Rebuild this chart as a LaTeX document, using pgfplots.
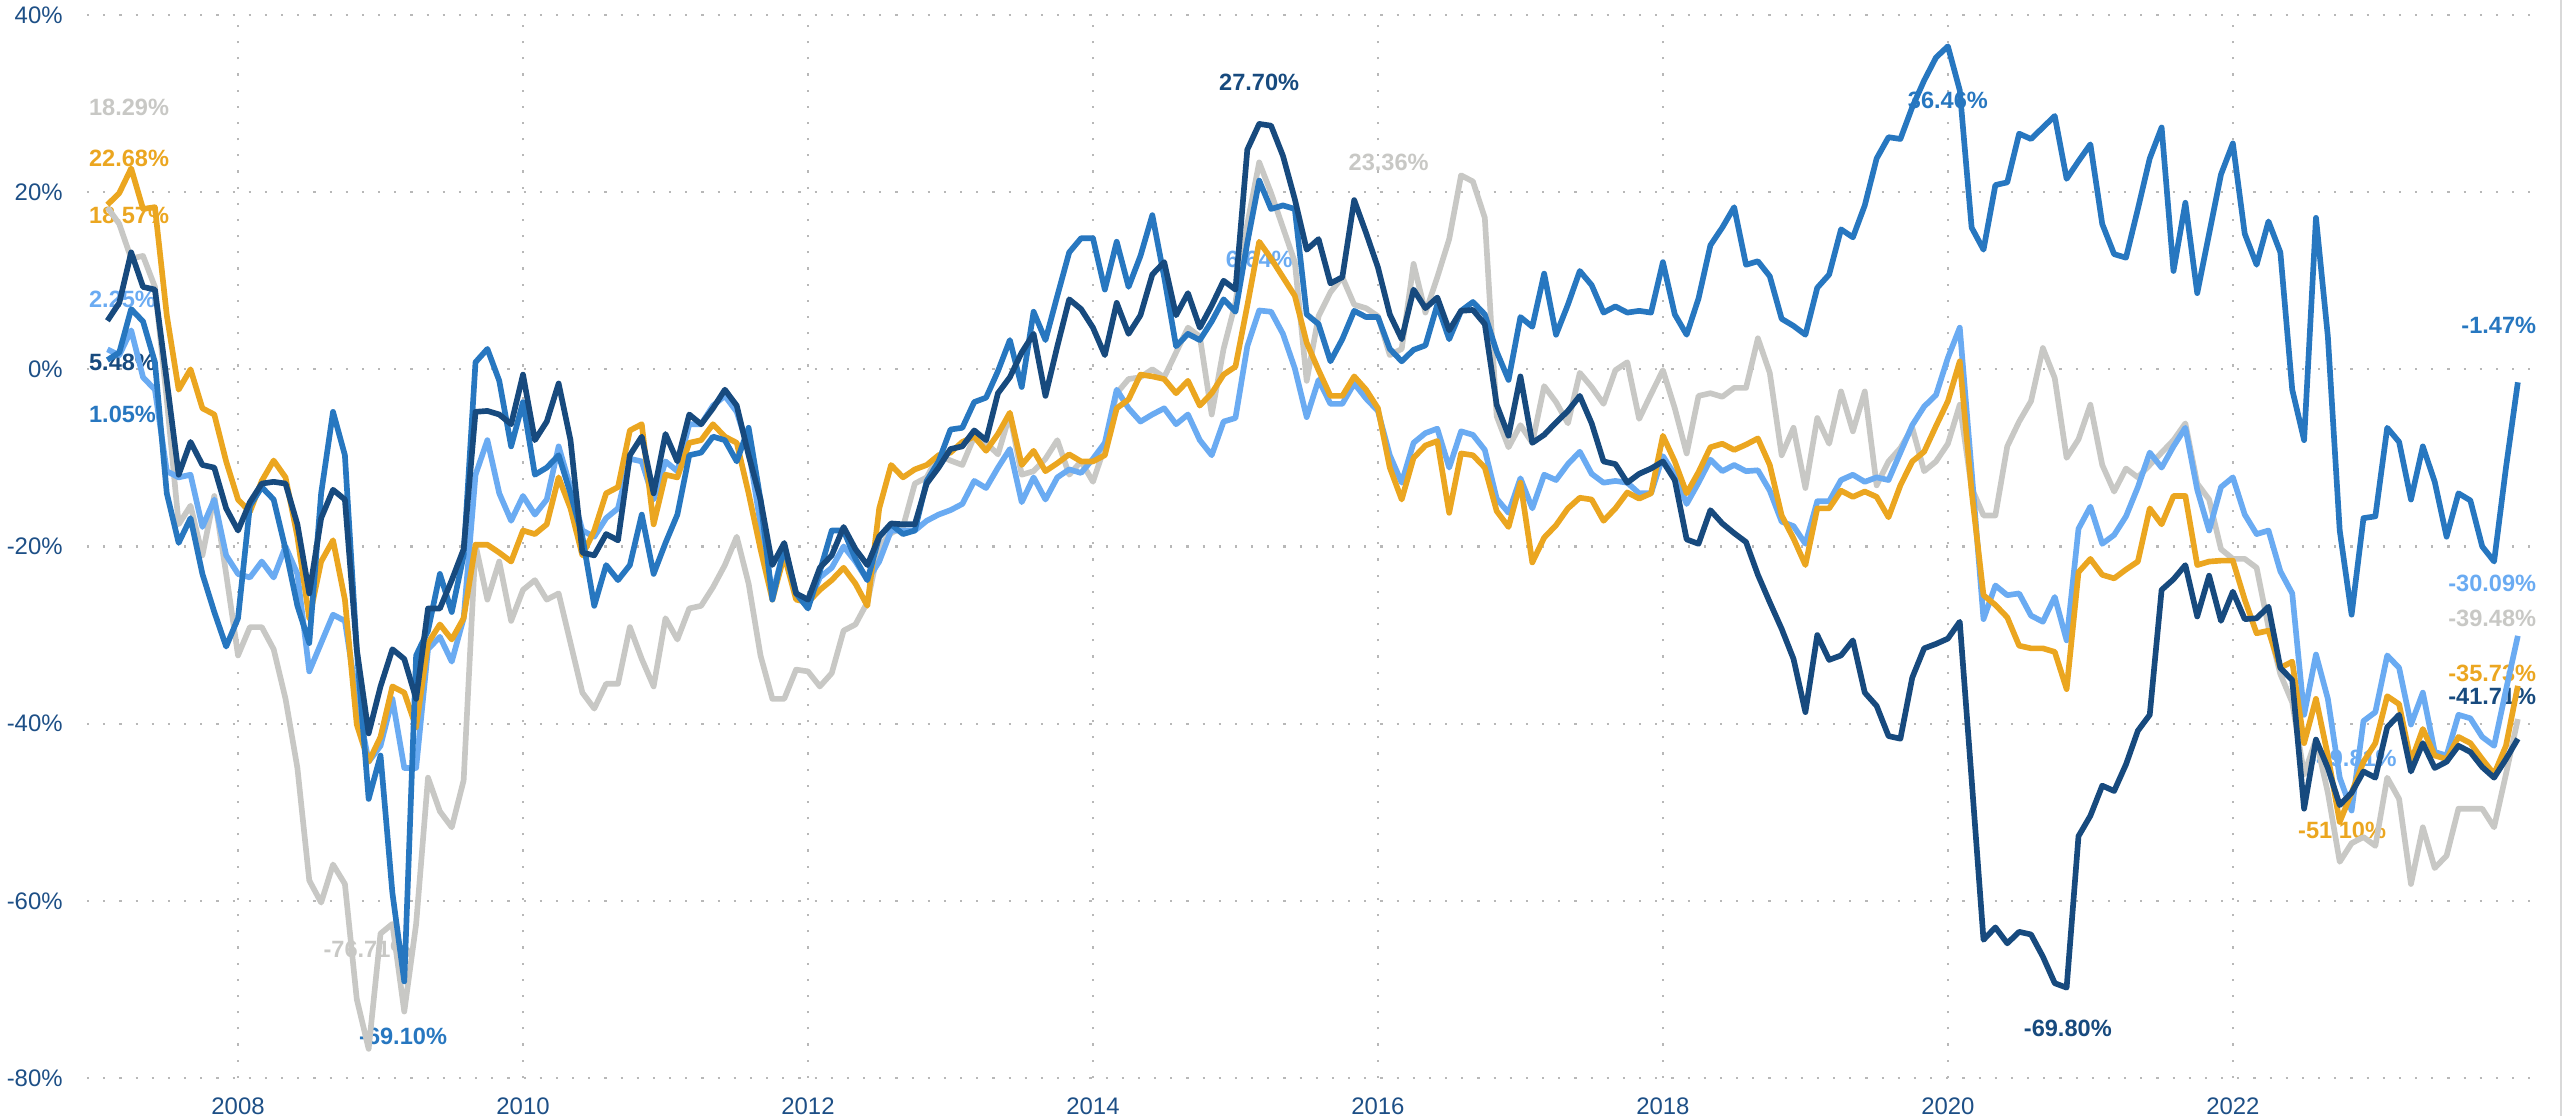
\documentclass[border=0pt]{standalone}
\usepackage{pgfplots}
\pgfplotsset{compat=1.18}
\usepackage{fontspec}
\setmainfont{Liberation Sans}
\definecolor{cnavy}{HTML}{174A7E}
\definecolor{cblue}{HTML}{2777C0}
\definecolor{clight}{HTML}{6AABF2}
\definecolor{corange}{HTML}{EBA620}
\definecolor{cgray}{HTML}{C8C8C5}
\definecolor{ctick}{HTML}{1D4F86}
\tikzset{lbl/.style={font=\bfseries\fontsize{7.1}{8}\selectfont, inner sep=0pt}}
\begin{document}
\begin{tikzpicture}
\path[use as bounding box] (0,0) rectangle (768.6bp,334.8bp);
\begin{axis}[
  at={(26.1bp,11.4bp)}, anchor=south west,
  scale only axis, width=735.3bp, height=318.9bp,
  xmin=-0.72, xmax=205.7, ymin=-80, ymax=40,
  clip=false,
  axis line style={draw=none},
  major tick length=0pt,
  xtick={12,36,60,84,108,132,156,180},
  xticklabels={2008,2010,2012,2014,2016,2018,2020,2022},
  ytick={-80,-60,-40,-20,0,20,40},
  yticklabels={-80\%,-60\%,-40\%,-20\%,0\%,20\%,40\%},
  ticklabel style={font=\fontsize{7.2}{8}\selectfont, text=ctick},
  xticklabel style={yshift=-2.4bp},
  yticklabel style={xshift=-3.8bp},
  grid=major,
  major grid style={line width=0.65bp, draw=black!28, dash pattern=on 0.65bp off 4.2bp},
  every axis plot/.append style={line width=1.7bp, line join=round, mark=none},
]
% labels (drawn below lines)
\node[lbl, text=cgray, anchor=west] at (axis cs:-0.6,29.6) {18.29\%};
\node[lbl, text=corange, anchor=west] at (axis cs:-0.6,23.8) {22.68\%};
\node[lbl, text=corange, anchor=west] at (axis cs:-0.6,17.4) {18.57\%};
\node[lbl, text=clight, anchor=west] at (axis cs:-0.6,7.9) {2.25\%};
\node[lbl, text=cnavy, anchor=west] at (axis cs:-0.6,0.8) {5.48\%};
\node[lbl, text=cblue, anchor=west] at (axis cs:-0.6,-5.1) {1.05\%};
\node[lbl, text=cgray] at (axis cs:22.9,-65.5) {-76.71\%};
\node[lbl, text=cblue] at (axis cs:25.9,-75.3) {-69.10\%};
\node[lbl, text=cnavy] at (axis cs:98.0,32.4) {27.70\%};
\node[lbl, text=cgray] at (axis cs:108.9,23.3) {23.36\%};
\node[lbl, text=clight] at (axis cs:98.0,12.4) {6.64\%};
\node[lbl, text=cblue] at (axis cs:156.0,30.4) {36.46\%};
\node[lbl, text=cnavy] at (axis cs:166.1,-74.4) {-69.80\%};
\node[lbl, text=clight] at (axis cs:190.1,-43.9) {-49.81\%};
\node[lbl, text=corange] at (axis cs:189.2,-52.0) {-51.10\%};
\node[lbl, text=cblue, anchor=east] at (axis cs:205.6,5.0) {-1.47\%};
\node[lbl, text=clight, anchor=east] at (axis cs:205.6,-24.2) {-30.09\%};
\node[lbl, text=cgray, anchor=east] at (axis cs:205.6,-28.1) {-39.48\%};
\node[lbl, text=corange, anchor=east] at (axis cs:205.6,-34.3) {-35.73\%};
\node[lbl, text=cnavy, anchor=east] at (axis cs:205.6,-36.9) {-41.71\%};

% gray
\addplot[cgray] coordinates {(1,18.29)(2,16.4)(3,12.5)(4,12.8)(5,9.3)(6,-3.4)(7,-17.5)(8,-15.4)(9,-21.0)(10,-14.3)(11,-23.1)(12,-32.3)(13,-29.1)(14,-29.1)(15,-31.6)(16,-37.2)(17,-45.0)(18,-57.7)(19,-60.2)(20,-55.9)(21,-58.1)(22,-71.1)(23,-76.71)(24,-63.7)(25,-62.6)(26,-72.5)(27,-62.6)(28,-46.1)(29,-49.9)(30,-51.7)(31,-46.4)(32,-19.8)(33,-26.0)(34,-21.7)(35,-28.4)(36,-24.9)(37,-23.8)(38,-26.0)(39,-25.3)(40,-30.9)(41,-36.5)(42,-38.3)(43,-35.5)(44,-35.5)(45,-29.1)(46,-32.7)(47,-35.8)(48,-28.1)(49,-30.5)(50,-27.0)(51,-26.7)(52,-24.6)(53,-22.1)(54,-18.9)(55,-24.2)(56,-32.3)(57,-37.2)(58,-37.2)(59,-33.9)(60,-34.1)(61,-35.8)(62,-34.3)(63,-29.5)(64,-28.8)(65,-26.3)(66,-20.0)(67,-18.5)(68,-17.8)(69,-12.9)(70,-12.2)(71,-9.7)(72,-10.3)(73,-10.8)(74,-7.6)(75,-8.3)(76,-9.6)(77,-5.1)(78,-11.9)(79,-11.5)(80,-10.1)(81,-8.0)(82,-11.9)(83,-10.4)(84,-12.7)(85,-8.7)(86,-2.7)(87,-1.1)(88,-0.9)(89,0.0)(90,-0.9)(91,1.9)(92,4.7)(93,3.7)(94,-5.1)(95,2.3)(96,7.5)(97,16.4)(98,23.36)(99,19.9)(100,16.0)(101,12.1)(102,-1.3)(103,6.0)(104,8.7)(105,10.4)(106,7.3)(107,6.9)(108,6.0)(109,1.6)(110,2.3)(111,11.9)(112,6.4)(113,10.4)(114,14.7)(115,21.9)(116,21.2)(117,17.1)(118,-5.3)(119,-8.8)(120,-6.3)(121,-8.3)(122,-1.9)(123,-3.7)(124,-6.1)(125,-0.4)(126,-2.0)(127,-3.9)(128,-0.1)(129,0.8)(130,-5.6)(131,-2.8)(132,-0.1)(133,-4.4)(134,-9.5)(135,-3.0)(136,-2.7)(137,-3.1)(138,-2.1)(139,-2.1)(140,3.5)(141,-0.4)(142,-9.7)(143,-6.6)(144,-13.4)(145,-5.5)(146,-8.4)(147,-2.5)(148,-7.0)(149,-2.5)(150,-13.1)(151,-10.4)(152,-8.9)(153,-6.6)(154,-11.5)(155,-10.4)(156,-8.4)(157,-4.0)(158,-13.4)(159,-16.5)(160,-16.5)(161,-8.7)(162,-5.9)(163,-3.6)(164,2.4)(165,-1.0)(166,-10.0)(167,-7.9)(168,-4.0)(169,-10.8)(170,-13.8)(171,-11.2)(172,-12.2)(173,-10.8)(174,-9.4)(175,-8.0)(176,-6.1)(177,-12.9)(178,-14.7)(179,-20.3)(180,-21.4)(181,-21.4)(182,-22.4)(183,-29.1)(184,-34.4)(185,-37.6)(186,-45.7)(187,-41.8)(188,-47.8)(189,-55.6)(190,-53.5)(191,-52.8)(192,-53.8)(193,-46.1)(194,-48.5)(195,-58.1)(196,-51.7)(197,-56.3)(198,-54.9)(199,-49.6)(200,-49.6)(201,-49.6)(202,-51.7)(203,-45.7)(204,-39.48)};
% light blue
\addplot[clight] coordinates {(1,2.25)(2,1.6)(3,4.4)(4,-0.9)(5,-2.3)(6,-11.5)(7,-12.2)(8,-11.9)(9,-17.8)(10,-14.7)(11,-21.0)(12,-23.1)(13,-23.5)(14,-21.7)(15,-23.5)(16,-20.0)(17,-23.1)(18,-34.1)(19,-30.9)(20,-27.7)(21,-28.4)(22,-37.2)(23,-44.3)(24,-42.5)(25,-37.2)(26,-45.0)(27,-45.0)(28,-31.6)(29,-30.2)(30,-33.0)(31,-28.1)(32,-11.9)(33,-8.0)(34,-14.0)(35,-17.1)(36,-14.3)(37,-16.4)(38,-14.7)(39,-8.7)(40,-13.3)(41,-18.2)(42,-18.9)(43,-16.8)(44,-15.7)(45,-10.1)(46,-10.4)(47,-14.7)(48,-10.4)(49,-11.5)(50,-6.2)(51,-6.2)(52,-4.1)(53,-3.0)(54,-4.8)(55,-9.0)(56,-17.5)(57,-25.3)(58,-20.3)(59,-25.3)(60,-26.7)(61,-23.5)(62,-22.4)(63,-20.0)(64,-21.7)(65,-23.8)(66,-21.7)(67,-18.2)(68,-18.2)(69,-18.2)(70,-17.1)(71,-16.4)(72,-15.9)(73,-15.2)(74,-12.6)(75,-13.4)(76,-11.1)(77,-9.0)(78,-15.0)(79,-12.2)(80,-14.7)(81,-12.2)(82,-11.3)(83,-11.7)(84,-10.1)(85,-8.3)(86,-2.3)(87,-4.4)(88,-5.9)(89,-5.1)(90,-4.4)(91,-6.2)(92,-5.1)(93,-8.0)(94,-9.7)(95,-5.9)(96,-5.5)(97,2.6)(98,6.64)(99,6.5)(100,4.0)(101,0.1)(102,-5.4)(103,-1.2)(104,-3.9)(105,-3.9)(106,-1.6)(107,-3.3)(108,-4.7)(109,-9.7)(110,-12.8)(111,-8.3)(112,-7.2)(113,-6.7)(114,-11.1)(115,-7.0)(116,-7.4)(117,-9.1)(118,-14.6)(119,-16.2)(120,-12.3)(121,-15.7)(122,-11.9)(123,-12.5)(124,-10.7)(125,-9.3)(126,-11.8)(127,-12.8)(128,-12.6)(129,-12.8)(130,-14.0)(131,-14.0)(132,-9.8)(133,-11.9)(134,-15.2)(135,-12.8)(136,-10.2)(137,-11.5)(138,-10.8)(139,-11.5)(140,-11.4)(141,-13.7)(142,-17.2)(143,-17.7)(144,-19.7)(145,-14.9)(146,-14.9)(147,-12.5)(148,-11.9)(149,-12.7)(150,-12.2)(151,-12.5)(152,-9.4)(153,-6.3)(154,-4.2)(155,-2.9)(156,1.3)(157,4.7)(158,-11.5)(159,-28.2)(160,-24.4)(161,-25.5)(162,-25.3)(163,-27.8)(164,-28.5)(165,-25.7)(166,-30.6)(167,-18.0)(168,-15.5)(169,-19.7)(170,-18.7)(171,-16.6)(172,-13.3)(173,-9.4)(174,-11.1)(175,-8.7)(176,-6.6)(177,-13.6)(178,-18.2)(179,-13.3)(180,-12.2)(181,-16.4)(182,-18.6)(183,-18.2)(184,-22.8)(185,-25.3)(186,-39.0)(187,-32.2)(188,-37.2)(189,-46.1)(190,-49.81)(191,-39.7)(192,-38.7)(193,-32.3)(194,-33.7)(195,-40.1)(196,-36.5)(197,-43.2)(198,-43.6)(199,-39.0)(200,-39.4)(201,-41.5)(202,-42.5)(203,-36.2)(204,-30.09)};
% orange
\addplot[corange] coordinates {(1,18.57)(2,19.9)(3,22.68)(4,18.1)(5,18.3)(6,6.1)(7,-2.3)(8,0.0)(9,-4.4)(10,-5.1)(11,-10.4)(12,-14.7)(13,-16.1)(14,-12.6)(15,-10.3)(16,-12.2)(17,-18.9)(18,-28.1)(19,-21.7)(20,-19.3)(21,-26.0)(22,-40.1)(23,-44.3)(24,-41.5)(25,-35.8)(26,-36.5)(27,-40.4)(28,-30.9)(29,-28.8)(30,-30.5)(31,-28.1)(32,-19.8)(33,-19.8)(34,-20.7)(35,-21.7)(36,-18.2)(37,-18.6)(38,-17.5)(39,-12.2)(40,-15.7)(41,-21.0)(42,-18.2)(43,-14.0)(44,-13.3)(45,-6.9)(46,-6.2)(47,-17.5)(48,-11.9)(49,-12.2)(50,-8.3)(51,-8.0)(52,-6.2)(53,-7.6)(54,-8.3)(55,-14.0)(56,-20.3)(57,-26.0)(58,-21.0)(59,-26.0)(60,-26.3)(61,-24.9)(62,-23.8)(63,-22.4)(64,-24.2)(65,-26.7)(66,-15.7)(67,-10.8)(68,-12.2)(69,-11.3)(70,-10.8)(71,-9.7)(72,-9.4)(73,-8.2)(74,-7.6)(75,-9.2)(76,-7.3)(77,-4.9)(78,-10.8)(79,-9.2)(80,-11.5)(81,-10.6)(82,-9.6)(83,-10.4)(84,-10.4)(85,-9.7)(86,-4.4)(87,-3.4)(88,-0.6)(89,-0.8)(90,-1.1)(91,-2.7)(92,-1.3)(93,-4.1)(94,-2.7)(95,-0.6)(96,0.3)(97,7.2)(98,14.4)(99,12.5)(100,10.4)(101,8.3)(102,3.0)(103,-0.1)(104,-3.0)(105,-3.0)(106,-0.8)(107,-2.3)(108,-4.4)(109,-11.1)(110,-14.7)(111,-10.0)(112,-8.6)(113,-8.1)(114,-16.2)(115,-9.5)(116,-9.7)(117,-11.1)(118,-16.0)(119,-17.8)(120,-12.8)(121,-21.8)(122,-19.0)(123,-17.6)(124,-15.7)(125,-14.5)(126,-14.7)(127,-17.1)(128,-15.7)(129,-13.9)(130,-14.6)(131,-14.0)(132,-7.5)(133,-10.4)(134,-14.0)(135,-11.6)(136,-8.8)(137,-8.4)(138,-9.1)(139,-8.5)(140,-7.8)(141,-10.8)(142,-16.5)(143,-19.1)(144,-22.1)(145,-15.7)(146,-15.7)(147,-13.7)(148,-14.4)(149,-13.8)(150,-14.4)(151,-16.7)(152,-13.1)(153,-10.4)(154,-9.3)(155,-6.4)(156,-3.6)(157,0.9)(158,-13.8)(159,-25.5)(160,-26.6)(161,-28.0)(162,-31.2)(163,-31.5)(164,-31.5)(165,-31.9)(166,-36.1)(167,-22.9)(168,-21.4)(169,-23.2)(170,-23.6)(171,-22.6)(172,-21.7)(173,-15.7)(174,-17.5)(175,-14.3)(176,-14.3)(177,-22.1)(178,-21.7)(179,-21.6)(180,-21.6)(181,-26.0)(182,-29.8)(183,-29.5)(184,-33.7)(185,-33.0)(186,-42.2)(187,-37.2)(188,-43.6)(189,-51.1)(190,-47.8)(191,-44.3)(192,-42.2)(193,-36.9)(194,-37.8)(195,-44.3)(196,-40.6)(197,-43.6)(198,-44.0)(199,-41.5)(200,-42.2)(201,-44.0)(202,-45.7)(203,-42.5)(204,-35.73)};
% medium blue
\addplot[cblue] coordinates {(1,1.05)(2,1.9)(3,6.8)(4,5.4)(5,0.8)(6,-14.0)(7,-19.6)(8,-16.8)(9,-23.1)(10,-27.4)(11,-31.3)(12,-28.1)(13,-15.4)(14,-13.3)(15,-14.7)(16,-20.3)(17,-26.7)(18,-30.9)(19,-14.0)(20,-4.8)(21,-9.7)(22,-31.6)(23,-48.5)(24,-43.6)(25,-59.1)(26,-69.1)(27,-32.3)(28,-29.5)(29,-23.1)(30,-27.4)(31,-21.0)(32,0.8)(33,2.3)(34,-1.3)(35,-8.7)(36,-3.7)(37,-11.9)(38,-11.1)(39,-9.7)(40,-14.0)(41,-18.9)(42,-26.7)(43,-22.1)(44,-23.8)(45,-22.1)(46,-16.4)(47,-23.1)(48,-19.6)(49,-16.4)(50,-9.7)(51,-9.4)(52,-7.6)(53,-8.0)(54,-10.4)(55,-6.6)(56,-14.7)(57,-26.0)(58,-20.0)(59,-25.3)(60,-27.0)(61,-22.8)(62,-18.2)(63,-18.2)(64,-21.4)(65,-23.8)(66,-18.9)(67,-17.5)(68,-18.6)(69,-18.2)(70,-12.6)(71,-10.4)(72,-6.8)(73,-6.6)(74,-3.7)(75,-3.2)(76,-0.2)(77,3.3)(78,-2.0)(79,6.5)(80,3.3)(81,8.3)(82,13.2)(83,14.8)(84,14.8)(85,9.0)(86,14.4)(87,9.3)(88,12.8)(89,17.4)(90,10.4)(91,2.6)(92,4.0)(93,3.3)(94,5.4)(95,7.9)(96,6.5)(97,14.3)(98,21.3)(99,18.1)(100,18.5)(101,18.1)(102,6.2)(103,5.1)(104,0.9)(105,3.4)(106,6.6)(107,5.9)(108,5.9)(109,2.3)(110,0.9)(111,2.2)(112,2.7)(113,7.3)(114,3.4)(115,6.6)(116,7.6)(117,6.2)(118,2.0)(119,-1.2)(120,5.9)(121,4.8)(122,10.8)(123,3.9)(124,7.3)(125,11.1)(126,9.5)(127,6.4)(128,7.1)(129,6.4)(130,6.6)(131,6.4)(132,12.1)(133,6.2)(134,3.9)(135,8.0)(136,14.0)(137,16.0)(138,18.3)(139,11.8)(140,12.2)(141,10.5)(142,5.7)(143,4.9)(144,3.9)(145,9.2)(146,10.7)(147,15.8)(148,14.9)(149,18.5)(150,23.8)(151,26.2)(152,26.0)(153,29.6)(154,32.6)(155,35.2)(156,36.46)(157,31.5)(158,16.0)(159,13.5)(160,20.8)(161,21.1)(162,26.6)(163,26.0)(164,27.3)(165,28.6)(166,21.5)(167,23.5)(168,25.4)(169,16.4)(170,13.0)(171,12.6)(172,18.1)(173,23.8)(174,27.3)(175,11.1)(176,18.8)(177,8.6)(178,15.3)(179,22.0)(180,25.5)(181,15.3)(182,11.8)(183,16.7)(184,13.2)(185,-2.3)(186,-8.0)(187,17.1)(188,3.7)(189,-18.2)(190,-27.7)(191,-16.8)(192,-16.6)(193,-6.6)(194,-8.2)(195,-14.7)(196,-8.7)(197,-12.7)(198,-18.9)(199,-14.0)(200,-14.8)(201,-20.0)(202,-21.7)(203,-11.1)(204,-1.47)};
% navy
\addplot[cnavy] coordinates {(1,5.48)(2,7.5)(3,13.2)(4,9.3)(5,9.0)(6,-1.3)(7,-11.9)(8,-8.2)(9,-10.8)(10,-11.1)(11,-15.7)(12,-18.2)(13,-15.0)(14,-12.9)(15,-12.7)(16,-12.9)(17,-17.5)(18,-25.3)(19,-16.8)(20,-13.6)(21,-14.7)(22,-31.6)(23,-41.1)(24,-35.8)(25,-31.6)(26,-32.7)(27,-37.2)(28,-27.0)(29,-27.0)(30,-23.8)(31,-20.3)(32,-4.8)(33,-4.7)(34,-5.1)(35,-6.2)(36,-0.6)(37,-8.0)(38,-5.9)(39,-1.6)(40,-8.0)(41,-20.7)(42,-21.0)(43,-18.6)(44,-19.3)(45,-9.7)(46,-7.6)(47,-14.0)(48,-7.3)(49,-10.4)(50,-5.1)(51,-6.2)(52,-4.4)(53,-2.3)(54,-4.1)(55,-9.7)(56,-14.7)(57,-22.1)(58,-19.6)(59,-25.3)(60,-26.0)(61,-22.4)(62,-21.0)(63,-17.8)(64,-20.3)(65,-22.1)(66,-18.9)(67,-17.4)(68,-17.5)(69,-17.5)(70,-12.9)(71,-11.1)(72,-9.0)(73,-8.7)(74,-6.9)(75,-8.0)(76,-2.7)(77,-0.9)(78,1.9)(79,4.0)(80,-3.0)(81,2.6)(82,7.9)(83,6.8)(84,4.7)(85,1.6)(86,7.5)(87,4.0)(88,6.1)(89,10.7)(90,12.1)(91,6.1)(92,8.6)(93,4.7)(94,7.2)(95,10.0)(96,9.0)(97,24.8)(98,27.7)(99,27.5)(100,24.1)(101,19.2)(102,13.5)(103,14.7)(104,9.7)(105,10.4)(106,19.1)(107,15.4)(108,11.5)(109,6.2)(110,3.4)(111,9.0)(112,6.9)(113,8.1)(114,4.4)(115,6.6)(116,6.7)(117,5.1)(118,-4.0)(119,-7.5)(120,-0.8)(121,-8.3)(122,-7.4)(123,-6.0)(124,-4.7)(125,-3.0)(126,-6.1)(127,-10.4)(128,-10.7)(129,-12.8)(130,-11.8)(131,-11.2)(132,-10.4)(133,-12.5)(134,-19.2)(135,-19.7)(136,-15.9)(137,-17.4)(138,-18.5)(139,-19.5)(140,-23.2)(141,-26.3)(142,-29.3)(143,-32.7)(144,-38.7)(145,-30.0)(146,-32.8)(147,-32.3)(148,-30.6)(149,-36.5)(150,-38.0)(151,-41.4)(152,-41.7)(153,-34.8)(154,-31.5)(155,-31.0)(156,-30.4)(157,-28.5)(158,-46.3)(159,-64.4)(160,-63.0)(161,-64.8)(162,-63.5)(163,-63.8)(164,-66.3)(165,-69.3)(166,-69.8)(167,-52.7)(168,-50.4)(169,-47.0)(170,-47.6)(171,-44.6)(172,-40.8)(173,-39.0)(174,-24.9)(175,-23.7)(176,-22.1)(177,-27.9)(178,-23.3)(179,-28.4)(180,-25.1)(181,-28.2)(182,-28.1)(183,-26.8)(184,-33.7)(185,-35.1)(186,-49.6)(187,-41.8)(188,-45.0)(189,-49.2)(190,-47.8)(191,-45.4)(192,-46.1)(193,-40.4)(194,-39.0)(195,-45.4)(196,-42.2)(197,-45.0)(198,-44.3)(199,-42.5)(200,-43.2)(201,-44.9)(202,-46.1)(203,-44.0)(204,-41.71)};
\end{axis}
\draw[black!15, line width=0.6bp] (768.2bp,0) -- (768.2bp,334.8bp);
\end{tikzpicture}
\end{document}
